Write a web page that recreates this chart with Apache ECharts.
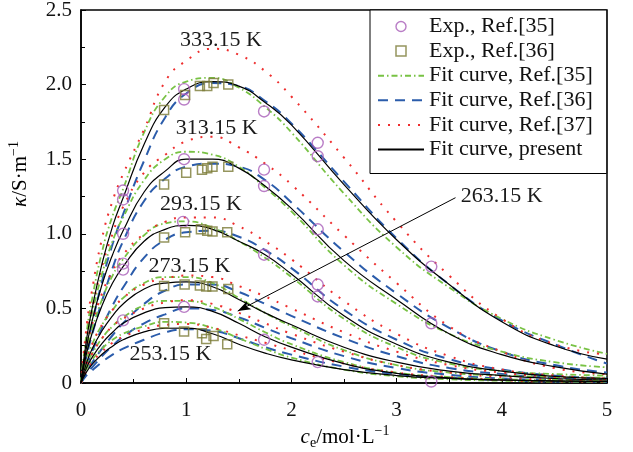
<!DOCTYPE html>
<html>
<head>
<meta charset="utf-8">
<script src="https://cdn.jsdelivr.net/npm/echarts@6/dist/echarts.min.js"></script>
<style>
  html, body { margin: 0; padding: 0; background: #fff; }
  #chart { width: 633px; height: 452px; }
</style>
</head>
<body>
<div id="chart"></div>
<script>
// Electrolyte concentration c_e (mol/L) at which every fitted curve is sampled
const conc = [0, 0.05, 0.1, 0.2, 0.3, 0.4, 0.6, 0.8, 1.0, 1.25, 1.5, 1.75, 2.0, 2.5, 3.0, 3.5, 4.0, 4.5, 5.0];

// Fit curve, present work (S/m)
const present333 = [0, 0.28, 0.48, 0.80, 1.05, 1.24, 1.60, 1.85, 1.97, 2.02, 1.99, 1.88, 1.73, 1.33, 0.96, 0.66, 0.41, 0.25, 0.16];
const present313 = [0, 0.23, 0.40, 0.66, 0.86, 1.02, 1.28, 1.42, 1.50, 1.50, 1.44, 1.32, 1.17, 0.82, 0.56, 0.33, 0.19, 0.11, 0.06];
const present293 = [0, 0.19, 0.32, 0.52, 0.67, 0.78, 0.95, 1.03, 1.056, 1.03, 0.95, 0.86, 0.73, 0.45, 0.26, 0.14, 0.08, 0.045, 0.03];
const present273 = [0, 0.13, 0.22, 0.35, 0.45, 0.53, 0.63, 0.67, 0.678, 0.645, 0.56, 0.47, 0.39, 0.24, 0.14, 0.08, 0.05, 0.03, 0.02];
const present263 = [0, 0.098, 0.165, 0.265, 0.34, 0.40, 0.47, 0.505, 0.51, 0.48, 0.40, 0.31, 0.24, 0.13, 0.065, 0.035, 0.02, 0.015, 0.01];
const present253 = [0, 0.071, 0.12, 0.193, 0.247, 0.29, 0.343, 0.367, 0.368, 0.33, 0.26, 0.20, 0.155, 0.09, 0.05, 0.03, 0.02, 0.013, 0.01];

// Fit curve, Ref.[35]
const fit35_333 = [0, 0.32, 0.54, 0.88, 1.12, 1.30, 1.68, 1.92, 2.02, 2.045, 1.98, 1.85, 1.68, 1.27, 0.91, 0.64, 0.43, 0.29, 0.195];
const fit35_313 = [0, 0.27, 0.45, 0.73, 0.95, 1.11, 1.36, 1.50, 1.55, 1.53, 1.45, 1.31, 1.15, 0.79, 0.53, 0.33, 0.21, 0.14, 0.105];
const fit35_293 = [0, 0.21, 0.35, 0.56, 0.72, 0.83, 0.99, 1.07, 1.083, 1.04, 0.95, 0.84, 0.71, 0.43, 0.24, 0.13, 0.08, 0.06, 0.05];
const fit35_273 = [0, 0.15, 0.25, 0.39, 0.49, 0.57, 0.67, 0.71, 0.71, 0.67, 0.57, 0.47, 0.38, 0.22, 0.12, 0.07, 0.05, 0.04, 0.035];
const fit35_263 = [0, 0.12, 0.19, 0.30, 0.38, 0.44, 0.52, 0.55, 0.55, 0.51, 0.43, 0.34, 0.26, 0.14, 0.07, 0.04, 0.025, 0.02, 0.02];
const fit35_253 = [0, 0.09, 0.15, 0.23, 0.29, 0.33, 0.38, 0.41, 0.405, 0.37, 0.30, 0.23, 0.17, 0.09, 0.045, 0.025, 0.015, 0.01, 0.01];

// Fit curve, Ref.[36]
const fit36_333 = [0, 0.21, 0.38, 0.68, 0.93, 1.13, 1.49, 1.78, 1.94, 2.01, 1.99, 1.89, 1.74, 1.35, 0.97, 0.66, 0.42, 0.26, 0.13];
const fit36_313 = [0, 0.17, 0.31, 0.55, 0.77, 0.95, 1.22, 1.37, 1.45, 1.47, 1.45, 1.36, 1.21, 0.88, 0.60, 0.37, 0.21, 0.12, 0.07];
const fit36_293 = [0, 0.11, 0.20, 0.37, 0.52, 0.64, 0.84, 0.96, 1.01, 1.02, 0.98, 0.89, 0.77, 0.49, 0.29, 0.16, 0.09, 0.05, 0.03];
const fit36_273 = [0, 0.07, 0.13, 0.23, 0.32, 0.40, 0.53, 0.62, 0.66, 0.66, 0.61, 0.53, 0.45, 0.30, 0.18, 0.10, 0.06, 0.035, 0.02];
const fit36_263 = [0, 0.06, 0.10, 0.18, 0.25, 0.31, 0.40, 0.46, 0.50, 0.49, 0.44, 0.37, 0.30, 0.18, 0.10, 0.055, 0.03, 0.02, 0.01];
const fit36_253 = [0, 0.05, 0.08, 0.14, 0.19, 0.23, 0.29, 0.34, 0.36, 0.35, 0.30, 0.24, 0.19, 0.11, 0.06, 0.035, 0.02, 0.01, 0.01];

// Fit curve, Ref.[37]
const fit37_333 = [0, 0.36, 0.60, 0.97, 1.22, 1.40, 1.70, 2.02, 2.16, 2.24, 2.20, 2.09, 1.92, 1.51, 1.08, 0.72, 0.43, 0.26, 0.19];
const fit37_313 = [0, 0.29, 0.48, 0.78, 1.00, 1.18, 1.41, 1.53, 1.62, 1.65, 1.58, 1.47, 1.33, 0.99, 0.67, 0.38, 0.21, 0.10, 0.06];
const fit37_293 = [0, 0.23, 0.38, 0.60, 0.75, 0.86, 1.00, 1.08, 1.11, 1.11, 1.05, 0.95, 0.83, 0.55, 0.33, 0.18, 0.09, 0.05, 0.03];
const fit37_273 = [0, 0.15, 0.25, 0.39, 0.49, 0.57, 0.66, 0.70, 0.72, 0.71, 0.65, 0.58, 0.50, 0.34, 0.21, 0.12, 0.07, 0.04, 0.025];
const fit37_263 = [0, 0.11, 0.19, 0.30, 0.38, 0.43, 0.50, 0.54, 0.555, 0.53, 0.47, 0.40, 0.33, 0.21, 0.12, 0.07, 0.04, 0.02, 0.015];
const fit37_253 = [0, 0.08, 0.135, 0.21, 0.27, 0.31, 0.36, 0.39, 0.395, 0.37, 0.32, 0.27, 0.22, 0.13, 0.07, 0.04, 0.02, 0.01, 0.01];

// Measured conductivity, Ref.[35]: [c_e, kappa]
const exp35 = [
  [0.40, 1.29], [0.40, 1.23], [0.98, 1.97], [0.98, 1.90], [1.74, 1.82], [2.25, 1.61], [2.25, 1.52], [3.33, 0.78],
  [0.40, 1.00], [0.98, 1.50], [1.74, 1.43], [1.74, 1.32], [2.25, 1.03], [3.33, 0.40],
  [0.40, 0.80], [0.40, 0.76], [0.97, 1.08], [1.74, 0.86], [2.25, 0.66], [2.25, 0.58],
  [0.40, 0.42], [0.98, 0.51], [1.74, 0.29], [2.25, 0.14], [3.33, 0.01]
];
// Measured conductivity, Ref.[36]: [c_e, kappa]
const exp36 = [
  [0.79, 1.83], [0.99, 1.93], [1.13, 1.99], [1.20, 1.99], [1.26, 2.01], [1.40, 2.00],
  [0.79, 1.33], [1.00, 1.41], [1.15, 1.43], [1.20, 1.44], [1.25, 1.45], [1.40, 1.45],
  [0.79, 0.975], [0.99, 1.01], [1.14, 1.03], [1.20, 1.02], [1.25, 1.015], [1.39, 1.01],
  [0.79, 0.65], [0.985, 0.66], [1.13, 0.653], [1.19, 0.646], [1.25, 0.646], [1.40, 0.63],
  [0.79, 0.40], [0.98, 0.345], [1.15, 0.333], [1.19, 0.295], [1.26, 0.315], [1.39, 0.26]
];

// Temperature captions
const tempNames = ['333.15 K', '313.15 K', '293.15 K', '273.15 K', '253.15 K', '263.15 K'];

const FONT = '"Liberation Serif", "Times New Roman", serif';
const COLORS = {
  exp35: '#a85cb8', exp36: '#7b7a36',
  fit35: '#78c244', fit36: '#2b5cab', fit37: '#ee2e2e', present: '#000000'
};
const NAMES = {
  exp35: 'Exp., Ref.[35]', exp36: 'Exp., Ref.[36]',
  fit35: 'Fit curve, Ref.[35]', fit36: 'Fit curve, Ref.[36]',
  fit37: 'Fit curve, Ref.[37]', present: 'Fit curve, present'
};
const STYLES = {
  fit35: { type: [6, 3, 1.5, 3], width: 1.8 },
  fit36: { type: [10, 7], width: 2 },
  fit37: { type: [2, 8], width: 2 },
  present: { type: 'solid', width: 1.2 }
};

function curve(key, values, z) {
  return {
    type: 'line',
    name: NAMES[key],
    data: conc.map((c, i) => [c, values[i]]),
    symbol: 'none',
    showSymbol: false,
    smooth: 0.5,
    lineStyle: { color: COLORS[key], width: STYLES[key].width, type: STYLES[key].type, cap: 'butt' },
    itemStyle: { color: COLORS[key] },
    z: z,
    silent: true,
    animation: false
  };
}

const groups = {
  fit36: [fit36_333, fit36_313, fit36_293, fit36_273, fit36_263, fit36_253],
  fit35: [fit35_333, fit35_313, fit35_293, fit35_273, fit35_263, fit35_253],
  fit37: [fit37_333, fit37_313, fit37_293, fit37_273, fit37_263, fit37_253],
  present: [present333, present313, present293, present273, present263, present253]
};

const series = [];
const zOrder = { fit36: 2, fit35: 3, fit37: 4, present: 5 };
Object.keys(groups).forEach(key => {
  groups[key].forEach(vals => series.push(curve(key, vals, zOrder[key])));
});

// Arrow pointing at the 263.15 K group
series[series.length - 2].markLine = {
  silent: true,
  animation: false,
  symbol: ['none', 'arrow'],
  symbolSize: [7, 13],
  label: { show: false },
  lineStyle: { color: '#000', width: 1, type: 'solid' },
  data: [[{ coord: [3.56, 1.242] }, { coord: [1.49, 0.482] }]]
};

series.push({
  type: 'scatter', name: NAMES.exp35, data: exp35,
  symbol: 'circle', symbolSize: 11,
  itemStyle: { color: 'rgba(0,0,0,0)', borderColor: COLORS.exp35, borderWidth: 1.4 },
  z: 6, silent: true, animation: false
});
series.push({
  type: 'scatter', name: NAMES.exp36, data: exp36,
  symbol: 'rect', symbolSize: 9,
  itemStyle: { color: 'rgba(0,0,0,0)', borderColor: COLORS.exp36, borderWidth: 1.5 },
  z: 6, silent: true, animation: false
});

const chart = echarts.init(document.getElementById('chart'), null, { renderer: 'canvas' });

const hideSymbol = { opacity: 0 };
chart.setOption({
  animation: false,
  backgroundColor: '#fff',
  grid: {
    left: 81, right: 26, top: 10, bottom: 69,
    show: true, borderColor: '#000', borderWidth: 1.5,
    outerBoundsMode: 'none'
  },
  legend: {
    left: 370, top: 10,
    orient: 'vertical',
    padding: [5.5, 14, 13, 7],
    itemWidth: 46, itemHeight: 10, itemGap: 2.6,
    borderColor: '#000', borderWidth: 1,
    backgroundColor: '#fff',
    selectedMode: false,
    textStyle: { fontFamily: FONT, fontSize: 22, color: '#111', lineHeight: 22 },
    data: [
      { name: NAMES.exp35, icon: 'circle', itemStyle: { color: 'rgba(0,0,0,0)', borderColor: COLORS.exp35, borderWidth: 1.4 } },
      { name: NAMES.exp36, icon: 'path://M0,0L10,0L10,10L0,10Z', itemStyle: { color: 'rgba(0,0,0,0)', borderColor: COLORS.exp36, borderWidth: 1.5 } },
      { name: NAMES.fit35, itemStyle: hideSymbol },
      { name: NAMES.fit36, itemStyle: hideSymbol },
      { name: NAMES.fit37, itemStyle: hideSymbol },
      { name: NAMES.present, itemStyle: hideSymbol }
    ]
  },
  xAxis: {
    type: 'value', min: 0, max: 5, interval: 1,
    axisLine: { show: true, lineStyle: { color: '#000', width: 1.5 } },
    axisTick: { show: true, inside: true, length: 5, lineStyle: { color: '#000', width: 1 } },
    minorTick: { show: true, splitNumber: 2, length: 4, lineStyle: { color: '#000', width: 1 } },
    splitLine: { show: false },
    axisLabel: { fontFamily: FONT, fontSize: 21, color: '#111', margin: 17 }
  },
  yAxis: {
    type: 'value', min: 0, max: 2.5, interval: 0.5,
    axisLine: { show: true, lineStyle: { color: '#000', width: 1.5 } },
    axisTick: { show: true, inside: true, length: 5, lineStyle: { color: '#000', width: 1 } },
    minorTick: { show: true, splitNumber: 2, length: 4, lineStyle: { color: '#000', width: 1 } },
    splitLine: { show: false },
    axisLabel: {
      fontFamily: FONT, fontSize: 21, color: '#111', margin: 9,
      formatter: v => (v === 0 ? '0' : v.toFixed(1))
    }
  },
  series: series
});

// Temperature captions anchored in data coordinates
const captionAt = [[1.33, 2.30], [1.29, 1.71], [1.14, 1.195], [1.03, 0.78], [0.85, 0.19], [4.0, 1.255]];
const graphics = tempNames.map((t, i) => {
  const p = chart.convertToPixel({ gridIndex: 0 }, captionAt[i]);
  return {
    type: 'text', x: p[0], y: p[1], silent: true, z: 20,
    style: { text: t, font: '22px ' + FONT, fill: '#1a1a1a', align: 'center', verticalAlign: 'middle' }
  };
});

graphics.push({
  type: 'text', x: 345, y: 437, silent: true,
  style: {
    text: '{i|c}{sub|e}{n|/mol·L}{sup|−1}',
    align: 'center', verticalAlign: 'middle',
    rich: {
      i: { fontFamily: FONT, fontSize: 21, fontStyle: 'italic', color: '#111', lineHeight: 26, verticalAlign: 'middle' },
      n: { fontFamily: FONT, fontSize: 21, color: '#111', lineHeight: 26, verticalAlign: 'middle' },
      sub: { fontFamily: FONT, fontSize: 14, color: '#111', lineHeight: 26, verticalAlign: 'bottom', padding: [8, 0, 0, 0] },
      sup: { fontFamily: FONT, fontSize: 14, color: '#111', lineHeight: 26, verticalAlign: 'top', padding: [0, 0, 8, 0] }
    }
  }
});
graphics.push({
  type: 'text', x: 20, y: 174, rotation: Math.PI / 2, silent: true,
  style: {
    text: '{i|κ}{n|/S·m}{sup|−1}',
    align: 'center', verticalAlign: 'middle',
    rich: {
      i: { fontFamily: FONT, fontSize: 21, fontStyle: 'italic', color: '#111', lineHeight: 26, verticalAlign: 'middle' },
      n: { fontFamily: FONT, fontSize: 21, color: '#111', lineHeight: 26, verticalAlign: 'middle' },
      sup: { fontFamily: FONT, fontSize: 14, color: '#111', lineHeight: 26, verticalAlign: 'top', padding: [0, 0, 8, 0] }
    }
  }
});

chart.setOption({ graphic: graphics });
</script>
</body>
</html>
